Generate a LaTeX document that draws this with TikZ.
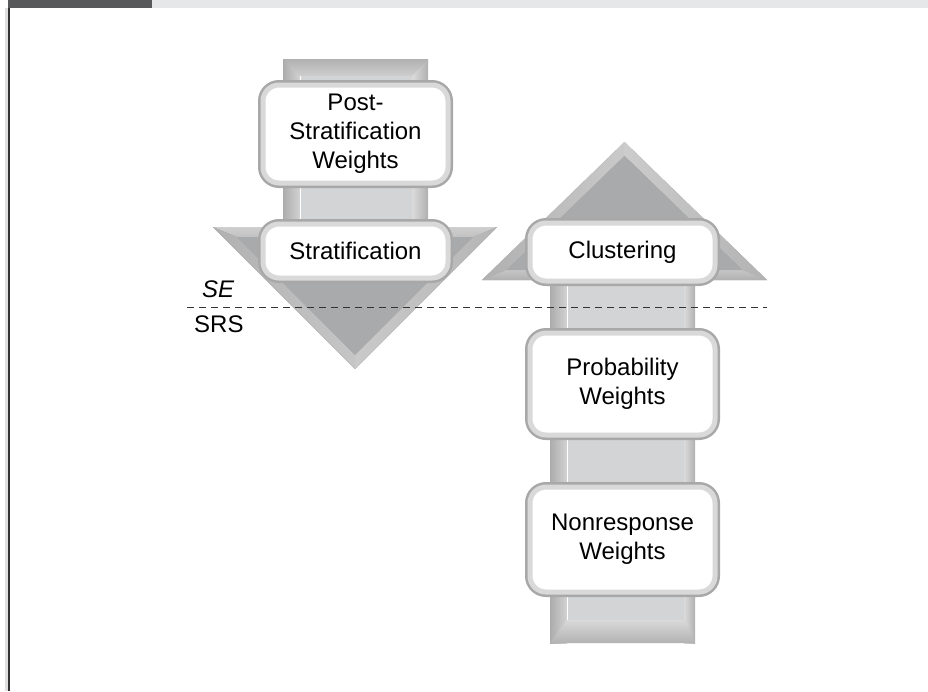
\documentclass[tikz,border=0pt]{standalone}
\usepackage{fontspec}
\setmainfont{Liberation Sans}
\definecolor{darkbar}{HTML}{58595B}
\definecolor{lightbar}{HTML}{E6E7E8}
\definecolor{frameline}{HTML}{333333}
\definecolor{shaftmid}{HTML}{D3D4D6}
\definecolor{shaftedge}{HTML}{9C9D9F}
\definecolor{triout}{HTML}{939496}
\definecolor{triin}{HTML}{A9AAAC}
\begin{document}
\begin{tikzpicture}[x=1pt,y=-1pt,
  box/.style={draw=gray!30, line width=5pt, fill=white, rounded corners=16pt,
    preaction={draw=gray!68, line width=10pt},
    font=\fontsize{24}{29}\selectfont, align=center, inner sep=0pt,
    minimum width=185pt},
  lbl/.style={font=\fontsize{24}{29}\selectfont, anchor=base west, inner sep=0pt},
  sep/.style={dash pattern=on 7pt off 5pt, color=frameline, line width=1pt}]
\useasboundingbox (0,0) rectangle (928,691);
\fill[white] (0,0) rectangle (928,691);
% header bars and frame
\fill[darkbar] (8,0) rectangle (152,8);
\fill[lightbar] (152,0) rectangle (928,8);
\fill[gray!25] (5,8) rectangle (8,691);
\draw[frameline, line width=2pt] (9,8) -- (9,691);

% ---------- left (down) arrow ----------
\fill[shaftedge] (283,59) rectangle (428,240);
\shade[left color=gray!65, right color=gray!35] (283,59) rectangle (300,240);
\shade[left color=gray!28, right color=gray!62] (412,59) rectangle (428,240);
\fill[shaftmid] (300,76) rectangle (412,240);
\shade[top color=gray!62, bottom color=gray!38] (283,59) -- (428,59) -- (412,76) -- (300,76) -- cycle;
\draw[white, line width=1pt] (300,76) -- (300,240);
% head
\fill[triout] (213,227) -- (497,227) -- (355,369) -- cycle;
\shade[top color=gray!38, bottom color=gray!48] (213,227) -- (497,227) -- (472.9,237) -- (237.1,237) -- cycle;
\shade[left color=gray!62, right color=gray!45] (213,227) -- (237.1,237) -- (355,354.9) -- (355,369) -- cycle;
\shade[left color=gray!42, right color=gray!58] (497,227) -- (472.9,237) -- (355,354.9) -- (355,369) -- cycle;
\fill[triin] (237.1,237) -- (472.9,237) -- (355,354.9) -- cycle;

% ---------- right (up) arrow ----------
\fill[shaftedge] (550,270) rectangle (695,643);
\shade[left color=gray!65, right color=gray!35] (550,270) rectangle (567,643);
\shade[left color=gray!28, right color=gray!62] (684,270) rectangle (695,643);
\fill[shaftmid] (567,270) rectangle (684,620);
\shade[top color=gray!30, bottom color=gray!60] (550,643) -- (695,643) -- (684,620) -- (567,620) -- cycle;
\draw[white, line width=1pt] (567,270) -- (567,620);
% head
\fill[triout] (482,280) -- (767,280) -- (624.5,142) -- cycle;
\shade[left color=gray!62, right color=gray!42] (482,280) -- (506.7,270) -- (624.5,155.9) -- (624.5,142) -- cycle;
\shade[left color=gray!40, right color=gray!60] (767,280) -- (742.3,270) -- (624.5,155.9) -- (624.5,142) -- cycle;
\shade[top color=gray!45, bottom color=gray!62] (482,280) -- (767,280) -- (742.3,270) -- (506.7,270) -- cycle;
\fill[triin] (506.7,270) -- (742.3,270) -- (624.5,155.9) -- cycle;

% ---------- boxes ----------
\node[box, minimum height=98pt] (ps) at (355.5,134) {Post-\\Stratification\\Weights};
\node[box, minimum height=54pt] (st) at (355.5,251) {Stratification};
\node[box, minimum height=58pt] (cl) at (622.5,252) {Clustering};
\node[box, minimum height=102pt] (pw) at (622.5,384) {Probability\\Weights};
\node[box, minimum height=105pt] (nw) at (622.5,539.5) {Nonresponse\\Weights};

% ---------- SE / SRS divider ----------
\coordinate (dl) at (187,307);
\coordinate (dr) at (767,307);
\draw[sep] (dl) -- (dr);
\node[lbl, font=\fontsize{24}{29}\selectfont\itshape] (se) at (202,297) {SE};
\node[lbl] (srs) at (194,332) {SRS};
\end{tikzpicture}
\end{document}
